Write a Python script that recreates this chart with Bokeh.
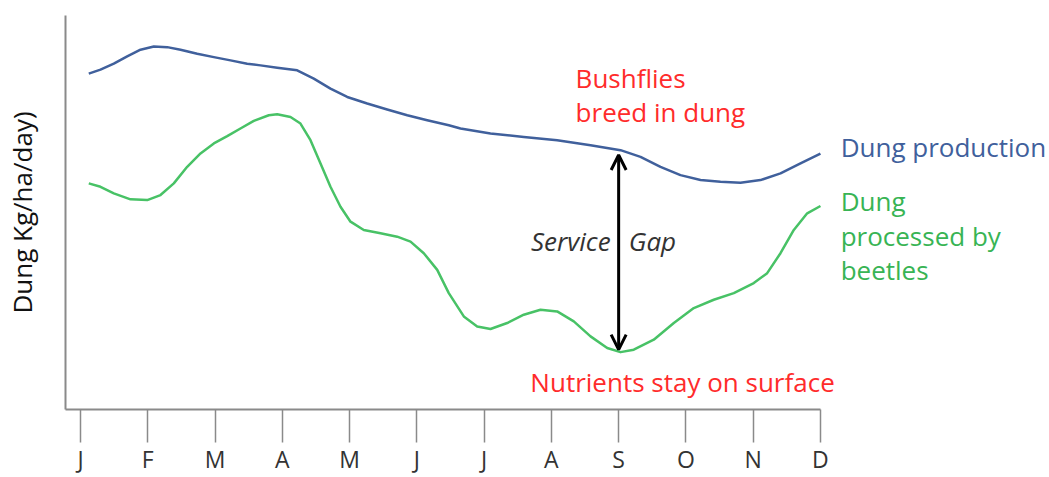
from bokeh.plotting import figure
from bokeh.models import FixedTicker, Label, Arrow, OpenHead, Range1d
from bokeh.embed import file_html
from bokeh.resources import INLINE

months = ["J", "F", "M", "A", "M", "J", "J", "A", "S", "O", "N", "D"]

# Dung production (month index, relative value)
prod_x = [0.123, 0.297, 0.495, 0.694, 0.892, 1.090, 1.289, 1.487, 1.735, 1.982,
          2.230, 2.478, 2.676, 2.924, 3.221, 3.468, 3.716, 3.965, 4.262, 4.559,
          4.857, 5.154, 5.475, 5.649, 6.095, 6.590, 7.086, 7.582, 8.028, 8.325,
          8.622, 8.919, 9.217, 9.514, 9.811, 10.109, 10.406, 10.703, 11.0]
prod_y = [85.24, 86.25, 87.77, 89.62, 91.32, 92.15, 91.97, 91.32, 90.30, 89.44,
          88.61, 87.77, 87.34, 86.76, 86.08, 83.97, 81.44, 79.32, 77.65, 76.13,
          74.68, 73.42, 72.15, 71.32, 70.05, 69.19, 68.35, 67.09, 65.82, 64.13,
          61.59, 59.49, 58.23, 57.80, 57.54, 58.23, 59.92, 62.46, 64.94]

# Dung processed by beetles
proc_x = [0.123, 0.297, 0.495, 0.743, 0.992, 1.189, 1.387, 1.586, 1.784, 1.982,
          2.181, 2.378, 2.576, 2.799, 2.924, 3.122, 3.270, 3.419, 3.568, 3.716,
          3.865, 4.014, 4.211, 4.460, 4.708, 4.906, 5.103, 5.303, 5.475, 5.698,
          5.897, 6.095, 6.343, 6.590, 6.838, 7.086, 7.333, 7.582, 7.830, 8.028,
          8.225, 8.522, 8.820, 9.117, 9.414, 9.712, 10.009, 10.208, 10.406, 10.604,
          10.803, 11.0]
proc_y = [57.39, 56.53, 54.86, 53.34, 53.16, 54.43, 57.39, 61.59, 64.99, 67.52,
          69.37, 71.32, 73.24, 74.68, 74.94, 74.25, 72.58, 68.35, 62.46, 56.53,
          51.47, 47.67, 45.57, 44.73, 43.87, 42.61, 39.67, 35.44, 29.54, 23.62,
          21.09, 20.43, 21.95, 24.05, 25.32, 24.89, 22.35, 18.56, 15.62, 14.56,
          15.19, 17.72, 21.95, 25.75, 27.85, 29.54, 32.08, 34.61, 39.67, 45.57,
          49.80, 51.65]

gap_month = 8.0
gap_top = 64.6
gap_bottom = 15.2

BLUE = "#40609c"
GREEN = "#48c266"
GREEN_TXT = "#38b454"
RED = "#ff2b2b"
FONT = "Open Sans"

p = figure(width=1049, height=477, output_backend="svg", toolbar_location=None,
           x_range=Range1d(-0.223, 14.405), y_range=Range1d(0, 100),
           min_border_left=65, min_border_right=0, min_border_top=15,
           min_border_bottom=67)
p.outline_line_color = None
p.grid.visible = False
p.background_fill_color = "white"

p.line(prod_x, prod_y, line_color=BLUE, line_width=2.5, line_join="round")
p.line(proc_x, proc_y, line_color=GREEN, line_width=2.5, line_join="round")

# x axis
xa = p.xaxis[0]
xa.bounds = (-0.223, 11.0)
xa.ticker = FixedTicker(ticks=list(range(12)))
xa.major_label_overrides = {i: m for i, m in enumerate(months)}
xa.axis_line_color = "#8a8a8a"
xa.axis_line_width = 2
xa.major_tick_line_color = "#8a8a8a"
xa.major_tick_line_width = 1.5
xa.major_tick_out = 33
xa.major_tick_in = 0
xa.minor_tick_line_color = None
xa.major_label_standoff = 0
xa.major_label_text_font = FONT
xa.major_label_text_font_size = "23px"
xa.major_label_text_color = "#333333"

# y axis
ya = p.yaxis[0]
ya.ticker = FixedTicker(ticks=[])
ya.axis_line_color = "#8a8a8a"
ya.axis_line_width = 2
ya.major_tick_out = 0
ya.major_tick_in = 0
ya.minor_tick_line_color = None
ya.major_label_standoff = 0
ya.axis_label = "Dung Kg/ha/day)"
ya.axis_label_text_font = FONT
ya.axis_label_text_font_style = "normal"
ya.axis_label_text_font_size = "26px"
ya.axis_label_text_color = "#111111"
ya.axis_label_standoff = 26

p.add_layout(Arrow(start=OpenHead(size=15, line_width=3, line_color="black"),
                   end=OpenHead(size=15, line_width=3, line_color="black"),
                   x_start=gap_month, y_start=gap_bottom, x_end=gap_month, y_end=gap_top,
                   line_width=3, line_color="black"))

def lab(x, y, t, color, align="left", style="normal", size="26px"):
    p.add_layout(Label(x=x, y=y, text=t, text_color=color, text_align=align,
                       text_baseline="middle", text_font=FONT, text_font_size=size,
                       text_font_style=style))

lab(7.36, 84.05, "Bushflies", RED)
lab(7.36, 75.44, "breed in dung", RED)
lab(8.95, 7.09, "Nutrients stay on surface", RED, align="center")
lab(7.88, 42.78, "Service", "#333333", align="right", style="italic")
lab(8.15, 42.78, "Gap", "#333333", align="left", style="italic")
lab(11.30, 66.58, "Dung production", BLUE)
lab(11.30, 52.91, "Dung", GREEN_TXT)
lab(11.30, 44.05, "processed by", GREEN_TXT)
lab(11.30, 35.44, "beetles", GREEN_TXT)

open("out.html", "w").write(file_html(p, INLINE))
